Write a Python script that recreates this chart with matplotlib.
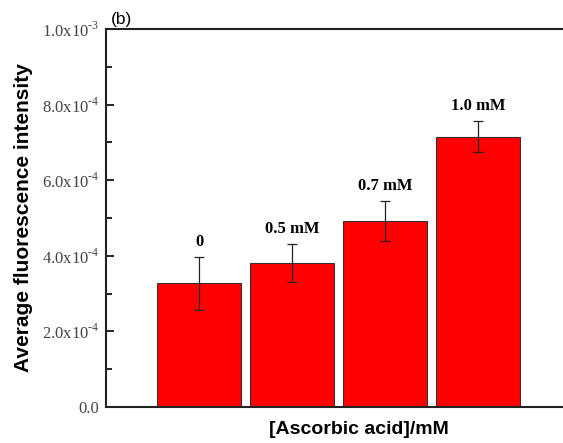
import matplotlib
matplotlib.use('Agg')
import matplotlib.pyplot as plt
from matplotlib.ticker import MultipleLocator, FuncFormatter

# bar data
labels = ['0', '0.5 mM', '0.7 mM', '1.0 mM']
means = [3.27e-4, 3.82e-4, 4.91e-4, 7.15e-4]
errs = [0.71e-4, 0.50e-4, 0.53e-4, 0.41e-4]
positions = [1, 2, 3, 4]

plt.rcParams['mathtext.fontset'] = 'custom'
plt.rcParams['mathtext.rm'] = 'Liberation Serif'

fig = plt.figure(figsize=(5.63, 4.43), dpi=100)
# the frame runs past the right edge of the figure
ax = fig.add_axes([106 / 563, 36 / 443, 505 / 563, 378 / 443])

ax.bar(positions, means, width=0.9, color='#ff0000', edgecolor='#333333', linewidth=0.8,
       yerr=errs, error_kw=dict(ecolor='#222222', elinewidth=0.9, capsize=3.5, capthick=0.9))

serif = ['Liberation Serif', 'DejaVu Serif']
sans = ['Liberation Sans', 'DejaVu Sans']
for p, m, e, t in zip(positions, means, errs, labels):
    ax.annotate(t, (p, m + e), textcoords='offset points', xytext=(0, 5),
                ha='center', va='bottom', fontsize=12, fontweight='bold', family=serif)

ax.set_xlim(0, 505 / 93)
ax.set_ylim(0, 1.0e-3)
ax.set_xticks([])
ax.yaxis.set_major_locator(MultipleLocator(2e-4))
ax.yaxis.set_minor_locator(MultipleLocator(1e-4))


def fmt(v, pos):
    if abs(v) < 1e-12:
        return '0.0'
    exp = -3 if v >= 9.99e-4 else -4
    return '%.1fx10$^{\\text{%d}}$' % (v / 10 ** exp, exp)


ax.yaxis.set_major_formatter(FuncFormatter(fmt))
ax.tick_params(axis='y', which='major', direction='in', length=6, width=1.2,
               labelsize=12, labelcolor='#444444', pad=5)
ax.tick_params(axis='y', which='minor', direction='in', length=4, width=1.2)
for lbl in ax.get_yticklabels():
    lbl.set_family(serif)

for s in ['left', 'top', 'bottom']:
    ax.spines[s].set_linewidth(1.5)
    ax.spines[s].set_color('#222222')
ax.spines['right'].set_visible(False)

ax.set_ylabel('Average fluorescence intensity', fontsize=15, fontweight='bold',
              family=sans, labelpad=6)
ax.set_xlabel('[Ascorbic acid]/mM', fontsize=14, fontweight='bold',
              family=sans, labelpad=10)
ax.text(0.01, 1.006, '(b)', transform=ax.transAxes, fontsize=12.5,
        family=sans, va='bottom', ha='left')

fig.savefig('out.png', dpi=100)
